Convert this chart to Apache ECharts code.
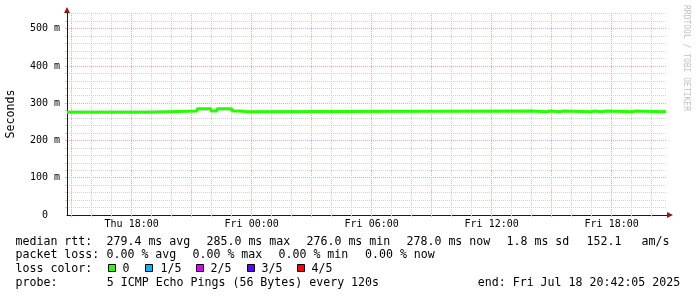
<!DOCTYPE html>
<html><head><meta charset="utf-8">
<script src="https://cdn.jsdelivr.net/npm/echarts@6/dist/echarts.min.js"></script>
<style>html,body{margin:0;padding:0;background:#fff}#c{width:697px;height:297px}</style>
</head><body><div id="c"></div>
<script>
// ---------- data ----------
const MIN = 60000;
const axisStart = new Date(2025, 6, 17, 14, 46, 0).getTime();   // left edge of plot
const axisEnd = axisStart + 30 * 60 * MIN;                       // 30 hours shown

// median rtt (ms): step changes, minutes after axisStart
const changeMinutes = [0, 243, 390, 420, 423, 432, 450, 495, 519, 540, 1395, 1437, 1449, 1479, 1488, 1572, 1584, 1602, 1617, 1695, 1707, 1785, 1791, 1797];
const medianMs      = [276, 279, 285, 280, 285, 279, 285, 279, 277, 279, 277, 279, 277, 279, 277, 279, 277, 279, 277, 279, 277, 279, 278, 278];

// x tick labels
const xLabelTimes = [
  new Date(2025, 6, 17, 18, 0).getTime(),
  new Date(2025, 6, 18, 0, 0).getTime(),
  new Date(2025, 6, 18, 6, 0).getTime(),
  new Date(2025, 6, 18, 12, 0).getTime(),
  new Date(2025, 6, 18, 18, 0).getTime()
];
const xLabelText = ['Thu 18:00', 'Fri 00:00', 'Fri 06:00', 'Fri 12:00', 'Fri 18:00'];

// y tick labels
const yLabelValues = [0, 100, 200, 300, 400, 500];
const yLabelText = ['0', '100 m', '200 m', '300 m', '400 m', '500 m'];
const yMax = 542;

// legend
const rttStats = ['279.4 ms avg', '285.0 ms max', '276.0 ms min', '278.0 ms now', '1.8 ms sd', '152.1', 'am/s'];
const lossStats = ['0.00 % avg', '0.00 % max', '0.00 % min', '0.00 % now'];
const lossLabels = ['0', '1/5', '2/5', '3/5', '4/5'];
const lossColors = ['#26ff00', '#00b8ff', '#dd00ff', '#5e00ff', '#ff0000'];
const probeText = '5 ICMP Echo Pings (56 Bytes) every 120s';
const endText = 'end: Fri Jul 18 20:42:05 2025';

// ---------- build ----------
const seriesData = changeMinutes.map((m, i) => [axisStart + m * MIN, medianMs[i]]);

const firstHour = new Date(2025, 6, 17, 15, 0).getTime();
const hourTicks = [], threeHourTicks = [];
for (let t = firstHour; t <= axisEnd; t += 60 * MIN) {
  hourTicks.push(t);
  if (((t - firstHour) / (60 * MIN)) % 3 === 0) threeHourTicks.push(t);
}
const minorY = [], majorY = [];
for (let v = 20; v <= yMax; v += 20) { if (v % 100) minorY.push(v); else majorY.push(v); }

const MONO = '"DejaVu Sans Mono", monospace';
const GRAY = '#d2d2d2', RED = '#e8acac', AXIS = '#1a1a1a', ARROW = '#8e1b1b';

const baseX = { type: 'value', min: axisStart, max: axisEnd, position: 'bottom', axisLine: { show: false }, axisLabel: { show: false }, axisTick: { show: false }, splitLine: { show: false } };
const baseY = { type: 'value', min: 0, max: yMax, position: 'left', axisLine: { show: false }, axisLabel: { show: false }, axisTick: { show: false }, splitLine: { show: false } };

const xAxes = [
  Object.assign({}, baseX, {
    axisTick: { show: true, customValues: hourTicks, length: 2, lineStyle: { color: GRAY } },
    splitLine: { show: true, lineStyle: { color: GRAY, type: [1, 1], width: 1 } }
  }),
  Object.assign({}, baseX, {
    axisTick: { show: true, customValues: threeHourTicks, length: 2, lineStyle: { color: RED } },
    splitLine: { show: true, lineStyle: { color: RED, type: [1, 1], width: 1 } },
    axisLabel: { show: true, customValues: xLabelTimes, margin: 4, fontFamily: MONO, fontSize: 10, color: '#000',
      formatter: v => { const i = xLabelTimes.indexOf(v); return i >= 0 ? xLabelText[i] : ''; } }
  }),
  Object.assign({}, baseX, { axisLine: { show: true, lineStyle: { color: AXIS, width: 1 } } }),
  Object.assign({}, baseX, { axisLine: { show: true, symbol: ['none', 'triangle'], symbolSize: [6, 6], symbolOffset: [0, 3], lineStyle: { color: ARROW, width: 0 } } })
];
const yAxes = [
  Object.assign({}, baseY, {
    axisTick: { show: true, customValues: minorY, length: 2, lineStyle: { color: GRAY } },
    splitLine: { show: true, lineStyle: { color: GRAY, type: [1, 1], width: 1 } }
  }),
  Object.assign({}, baseY, {
    name: 'Seconds', nameLocation: 'middle', nameGap: 50, nameRotate: 90,
    nameTextStyle: { fontFamily: MONO, fontSize: 11.6, color: '#000' },
    axisTick: { show: true, customValues: majorY, length: 2, lineStyle: { color: RED } },
    splitLine: { show: true, lineStyle: { color: RED, type: [1, 1], width: 1 } },
    axisLabel: { show: true, customValues: yLabelValues, margin: 22, align: 'center', fontFamily: MONO, fontSize: 10, color: '#000',
      formatter: v => { const i = yLabelValues.indexOf(v); return i >= 0 ? yLabelText[i] : ''; } }
  }),
  Object.assign({}, baseY, { axisLine: { show: true, lineStyle: { color: AXIS, width: 1 } } }),
  Object.assign({}, baseY, { axisLine: { show: true, symbol: ['none', 'triangle'], symbolSize: [6, 6], symbolOffset: [0, 3], lineStyle: { color: ARROW, width: 0 } } })
];

function txt(text, x, y, size, extra) {
  return Object.assign({ type: 'text', x: x, y: y, silent: true,
    style: { text: text, font: size + 'px ' + MONO, fill: '#000', align: 'left', verticalAlign: 'middle', textAlign: 'left', textVerticalAlign: 'middle' } }, extra || {});
}
const LF = 11.6;
const graphics = [];
const r1 = 241.5, r2 = 255, r3 = 269, r4 = 282.8;
graphics.push(txt('median rtt:', 15.5, r1, LF));
[107, 207, 307, 407, 507, 587, 642].forEach((x, i) => graphics.push(txt(rttStats[i], x - 0.5, r1, LF)));
graphics.push(txt('packet loss:', 15.5, r2, LF));
[107, 193, 279, 365.5].forEach((x, i) => graphics.push(txt(lossStats[i], x - 0.5, r2, LF)));
graphics.push(txt('loss color:', 15.5, r3, LF));
[108.5, 145.5, 196.5, 247.5, 297.5].forEach((x, i) => {
  graphics.push({ type: 'rect', silent: true, shape: { x: x, y: 264.5, width: 7, height: 7 }, style: { fill: lossColors[i], stroke: '#000', lineWidth: 1 } });
});
[123, 161, 211, 262, 312].forEach((x, i) => graphics.push(txt(lossLabels[i], x - 0.5, r3, LF)));
graphics.push(txt('probe:', 15.5, r4, LF));
graphics.push(txt(probeText, 106.8, r4, LF));
graphics.push(txt(endText, 477.8, r4, LF));
graphics.push({ type: 'text', x: 686, y: 5, rotation: -Math.PI / 2, silent: true,
  style: { text: 'RRDTOOL / TOBI OETIKER', font: '8px ' + MONO, fill: '#c2c2c2', align: 'left', verticalAlign: 'middle', textAlign: 'left', textVerticalAlign: 'middle' } });

const chart = echarts.init(document.getElementById('c'), null, { renderer: 'canvas' });
chart.setOption({
  animation: false,
  backgroundColor: '#ffffff',
  grid: { left: 67, right: 30, top: 13, bottom: 82, containLabel: false, outerBoundsMode: 'none' },
  xAxis: xAxes,
  yAxis: yAxes,
  series: [{
    type: 'line', name: 'median rtt', xAxisIndex: 0, yAxisIndex: 0, step: 'end',
    data: seriesData, showSymbol: false, symbol: 'none',
    lineStyle: { color: '#26ff00', width: 3 }, z: 5
  }],
  graphic: graphics
});
</script>
</body></html>
